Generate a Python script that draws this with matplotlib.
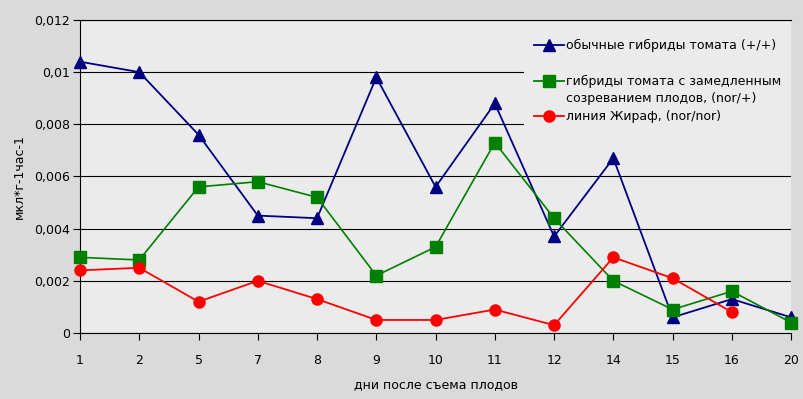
import matplotlib.pyplot as plt
from matplotlib.lines import Line2D
from matplotlib.patches import Rectangle

# days after harvest (categorical axis)
days = ['1', '2', '5', '7', '8', '9', '10', '11', '12', '14', '15', '16', '20']

normal = [0.0104, 0.0100, 0.0076, 0.0045, 0.0044, 0.0098, 0.0056, 0.0088,
          0.0037, 0.0067, 0.0006, 0.0013, 0.0006]
slow = [0.0029, 0.0028, 0.0056, 0.0058, 0.0052, 0.0022, 0.0033, 0.0073,
        0.0044, 0.0020, 0.0009, 0.0016, 0.0004]
giraffe = [0.0024, 0.0025, 0.0012, 0.0020, 0.0013, 0.0005, 0.0005, 0.0009,
           0.0003, 0.0029, 0.0021, 0.0008]

labels = [['обычные гибриды томата (+/+)'],
          ['гибриды томата с замедленным', 'созреванием плодов, (nor/+)'],
          ['линия Жираф, (nor/nor)']]
yticks = [0, 0.002, 0.004, 0.006, 0.008, 0.01, 0.012]
yticklabels = ['0', '0,002', '0,004', '0,006', '0,008', '0,01', '0,012']

plt.rcParams['font.family'] = 'DejaVu Sans'
plt.rcParams['font.size'] = 9

fig = plt.figure(figsize=(8.04, 3.99), dpi=100, facecolor='#dadada')
ax = fig.add_axes([0.0995, 0.1654, 0.8845, 0.7846], facecolor='#ebebeb')

x = list(range(len(days)))
ax.plot(x, normal, color='#000080', lw=1.3, marker='^', ms=8, zorder=3, clip_on=False)
ax.plot(x, slow, color='#008000', lw=1.2, marker='s', ms=8, zorder=3, clip_on=False)
ax.plot(x[:len(giraffe)], giraffe, color='#ff0000', lw=1.3, marker='o', ms=8,
        zorder=3, clip_on=False)

ax.set_xlim(0, len(days) - 1)
ax.set_ylim(0, 0.012)
ax.set_xticks(x)
ax.set_xticklabels(days)
ax.set_yticks(yticks)
ax.set_yticklabels(yticklabels)
ax.yaxis.grid(True, color='black', lw=0.8)
ax.set_axisbelow(True)

ax.spines['right'].set_visible(False)
for s in ['top', 'left', 'bottom']:
    ax.spines[s].set_linewidth(0.8)
ax.tick_params(axis='x', length=5, width=0.8, pad=10)
ax.tick_params(axis='y', length=5, width=0.8, pad=2)

ax.set_xlabel('дни после съема плодов', labelpad=8)
ax.set_ylabel('мкл*г-1час-1', labelpad=6)

# legend: opaque box without border hiding grid lines
ax.add_patch(Rectangle((0.624, 0.655), 0.376, 0.33, transform=ax.transAxes,
                       facecolor='#ebebeb', edgecolor='none', zorder=2))
colors = ['#000080', '#008000', '#ff0000']
markers = ['^', 's', 'o']
rows = [0.92, 0.805, 0.693]
line_step = 0.0575
for lab, c, m, yy in zip(labels, colors, markers, rows):
    ax.add_line(Line2D([0.638, 0.68], [yy, yy], transform=ax.transAxes,
                       color=c, lw=1.3, zorder=4))
    ax.add_line(Line2D([0.659], [yy], transform=ax.transAxes, color=c,
                       marker=m, ms=8, zorder=4))
    for i, part in enumerate(lab):
        ax.text(0.684, yy - i * line_step, part, transform=ax.transAxes,
                va='center', ha='left', zorder=4)

fig.savefig('out.png', dpi=100, facecolor=fig.get_facecolor())
